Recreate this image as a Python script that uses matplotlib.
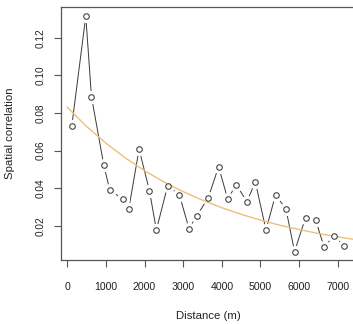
import matplotlib
matplotlib.use("Agg")
import matplotlib.pyplot as plt

# binned spatial correlation
dist = [119, 481, 628, 946, 1101, 1437, 1592, 1860, 2127, 2307,
        2600, 2902, 3152, 3359, 3651, 3917, 4150, 4375, 4651, 4866,
        5142, 5390, 5659, 5881, 6165, 6424, 6649, 6899, 7165]
corr = [0.0731, 0.1315, 0.0887, 0.0524, 0.0391, 0.0342, 0.0289, 0.0608, 0.0388, 0.0179,
        0.0414, 0.0365, 0.0186, 0.0255, 0.0351, 0.0515, 0.0344, 0.0418, 0.0329, 0.0435,
        0.0179, 0.0365, 0.0290, 0.0064, 0.0244, 0.0232, 0.0087, 0.0149, 0.0094]

# fitted decay curve, read at 500 m steps
fit_dist = [0, 500, 1000, 1500, 2000, 2500, 3000, 3500, 4000, 4500,
            5000, 5500, 6000, 6500, 7000, 7500]
fit_corr = [0.0831, 0.0729, 0.0640, 0.0562, 0.0494, 0.0434, 0.0382, 0.0337, 0.0297, 0.0262,
            0.0231, 0.0204, 0.0181, 0.0160, 0.0142, 0.0126]

xticks = [0, 1000, 2000, 3000, 4000, 5000, 6000, 7000]
yticks = [0.02, 0.04, 0.06, 0.08, 0.10, 0.12]

plt.rcParams['font.family'] = ['Liberation Sans', 'DejaVu Sans']

fig = plt.figure(figsize=(3.53, 3.24), dpi=100)
ax = fig.add_axes([61 / 353, 64 / 324, 294 / 353, 253.3 / 324])

ax.plot(dist, corr, color='#3a3a3a', lw=0.7, zorder=1)
# white halo so the line stops short of each point, like R type="b"
ax.plot(dist, corr, 'o', ms=8.5, mfc='white', mec='white', zorder=2)
ax.plot(fit_dist, fit_corr, color='#EBC07A', lw=1.0, zorder=3)
ax.plot(dist, corr, 'o', ms=4.0, mfc='white', mec='#444444', mew=0.8, zorder=4)

ax.set_xlim(-160, 7445)
ax.set_ylim(0.0019, 0.1365)
ax.set_xticks(xticks)
ax.set_xticklabels([str(t) for t in xticks])
ax.set_yticks(yticks)
ax.set_yticklabels([f"{t:.2f}" for t in yticks])

for s in ax.spines.values():
    s.set_color('#555555')
    s.set_linewidth(0.9)

ax.tick_params(axis='x', length=5, width=0.8, color='#555555', labelsize=7.6, pad=11,
               labelcolor='#222222')
ax.tick_params(axis='y', length=5, width=0.8, color='#555555', labelsize=7.2, pad=6,
               labelcolor='#222222')
for lab in ax.get_yticklabels():
    lab.set_rotation(90)
    lab.set_va('center')
    lab.set_ha('right')

ax.set_xlabel('Distance (m)', fontsize=8.2, color='#222222')
ax.set_ylabel('Spatial correlation', fontsize=8.2, color='#222222')
ax.xaxis.set_label_coords(0.5, -0.201)
ax.yaxis.set_label_coords(-0.157, 0.5)

fig.savefig('out.png', dpi=100)
